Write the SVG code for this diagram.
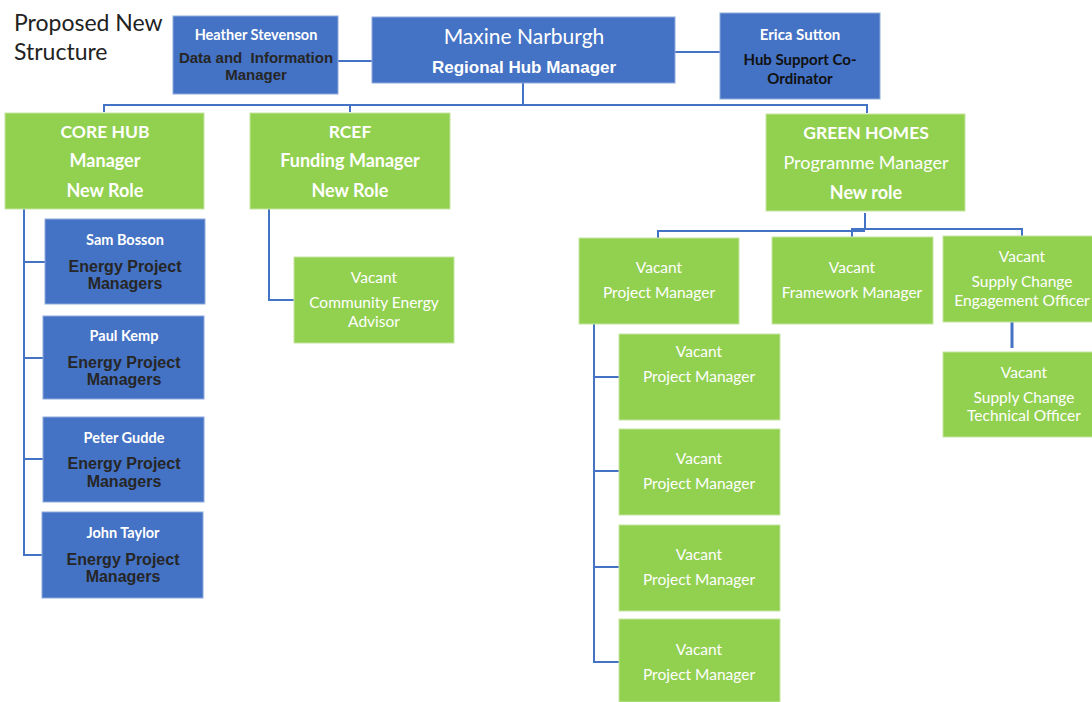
<svg xmlns="http://www.w3.org/2000/svg" width="1092" height="702" viewBox="0 0 1092 702">
<style>
.b{fill:#4472C4;stroke:#8FAADC;stroke-width:1}
.g{fill:#92D050;stroke:#C5E5A0;stroke-width:1}
.ln{fill:none;stroke:#4472C4;stroke-width:2}
text{text-anchor:middle;white-space:pre}
.cal{font-family:Lato,"Open Sans",sans-serif;fill:#fff}
.calb{font-family:Lato,"Open Sans",sans-serif;fill:#fff;font-weight:bold}
.ar{font-family:"Liberation Sans",Arial,sans-serif;font-weight:bold}
.dk{fill:#262626}
.wh{fill:#fff}
.title{font-family:Lato,"Open Sans",sans-serif;font-size:23px;fill:#222;text-anchor:start}
</style>
<rect width="1092" height="702" fill="#fff"/>
<text class="title" x="14" y="31">Proposed New</text>
<text class="title" x="14" y="60">Structure</text>

<g id="connectors">
<path class="ln" d="M338 61H372"/>
<path class="ln" d="M675 52H720"/>
<path class="ln" d="M523 83V105"/>
<path class="ln" d="M104 112V105H867V113"/>
<path class="ln" d="M350 105V112"/>
<path class="ln" d="M24 209V555H42"/>
<path class="ln" d="M24 262H45"/>
<path class="ln" d="M24 358H43"/>
<path class="ln" d="M24 459H43"/>
<path class="ln" d="M269 209V300H294"/>
<path class="ln" d="M865 213V230"/>
<path class="ln" d="M658 238V231H865"/>
<path class="ln" d="M852 237V229H1022V236"/>
<path class="ln" d="M1012 322V348" style="stroke-width:3"/>
<path class="ln" d="M594 324V662H619"/>
<path class="ln" d="M594 377H619"/>
<path class="ln" d="M594 471H619"/>
<path class="ln" d="M594 567H619"/>
</g>

<g id="heather">
<rect class="b" x="173" y="16" width="165" height="78"/>
<text class="calb" x="256" y="40" font-size="14.5">Heather Stevenson</text>
<text class="ar dk" x="256" y="63" font-size="15" xml:space="preserve">Data and  Information</text>
<text class="ar dk" x="256" y="80" font-size="15">Manager</text>
</g>
<g id="maxine">
<rect class="b" x="372" y="17" width="303" height="66"/>
<text class="cal" x="524" y="44" font-size="21">Maxine Narburgh</text>
<text class="ar wh" x="524" y="73" font-size="17">Regional Hub Manager</text>
</g>
<g id="erica">
<rect class="b" x="720" y="13" width="160" height="86"/>
<text class="calb" x="800" y="40" font-size="15">Erica Sutton</text>
<text class="calb" x="800" y="65" font-size="15" style="fill:#111">Hub Support Co-</text>
<text class="calb" x="800" y="84" font-size="15" style="fill:#111">Ordinator</text>
</g>

<g id="corehub">
<rect class="g" x="5" y="113" width="199" height="96"/>
<text class="calb" x="105" y="138" font-size="17.5">CORE HUB</text>
<text class="calb" x="105" y="167" font-size="18">Manager</text>
<text class="calb" x="105" y="197" font-size="18">New Role</text>
</g>
<g id="rcef">
<rect class="g" x="250" y="113" width="200" height="96"/>
<text class="calb" x="350" y="138" font-size="17.5">RCEF</text>
<text class="calb" x="350" y="167" font-size="18">Funding Manager</text>
<text class="calb" x="350" y="197" font-size="18">New Role</text>
</g>
<g id="greenhomes">
<rect class="g" x="766" y="114" width="199" height="97"/>
<text class="calb" x="866" y="139" font-size="17.5">GREEN HOMES</text>
<text class="cal" x="866" y="169" font-size="18">Programme Manager</text>
<text class="calb" x="866" y="199" font-size="18">New role</text>
</g>

<g id="sam">
<rect class="b" x="45" y="219" width="160" height="85"/>
<text class="calb" x="125" y="245" font-size="14.5">Sam Bosson</text>
<text class="ar dk" x="125" y="272" font-size="16">Energy Project</text>
<text class="ar dk" x="125" y="289" font-size="16">Managers</text>
</g>
<g id="paul">
<rect class="b" x="43" y="316" width="161" height="83"/>
<text class="calb" x="124" y="341" font-size="14.5">Paul Kemp</text>
<text class="ar dk" x="124" y="368" font-size="16">Energy Project</text>
<text class="ar dk" x="124" y="385" font-size="16">Managers</text>
</g>
<g id="peter">
<rect class="b" x="43" y="417" width="161" height="85"/>
<text class="calb" x="124" y="443" font-size="14.5">Peter Gudde</text>
<text class="ar dk" x="124" y="469" font-size="16">Energy Project</text>
<text class="ar dk" x="124" y="487" font-size="16">Managers</text>
</g>
<g id="john">
<rect class="b" x="42" y="512" width="161" height="86"/>
<text class="calb" x="123" y="538" font-size="14.5">John Taylor</text>
<text class="ar dk" x="123" y="565" font-size="16">Energy Project</text>
<text class="ar dk" x="123" y="582" font-size="16">Managers</text>
</g>

<g id="community">
<rect class="g" x="294" y="257" width="160" height="86"/>
<text class="cal" x="374" y="283" font-size="15.5">Vacant</text>
<text class="cal" x="374" y="308" font-size="15.5">Community Energy</text>
<text class="cal" x="374" y="327" font-size="15.5">Advisor</text>
</g>

<g id="pm-top">
<rect class="g" x="579" y="238" width="160" height="86"/>
<text class="cal" x="659" y="273" font-size="15.5">Vacant</text>
<text class="cal" x="659" y="298" font-size="15.5">Project Manager</text>
</g>
<g id="framework">
<rect class="g" x="772" y="237" width="161" height="87"/>
<text class="cal" x="852" y="273" font-size="15.5">Vacant</text>
<text class="cal" x="852" y="298" font-size="15.5">Framework Manager</text>
</g>
<g id="engagement">
<rect class="g" x="943" y="236" width="150" height="86"/>
<text class="cal" x="1022" y="262" font-size="15.5">Vacant</text>
<text class="cal" x="1022" y="287" font-size="15.5">Supply Change</text>
<text class="cal" x="1022" y="306" font-size="15.5">Engagement Officer</text>
</g>
<g id="technical">
<rect class="g" x="943" y="352" width="150" height="85"/>
<text class="cal" x="1024" y="378" font-size="15.5">Vacant</text>
<text class="cal" x="1024" y="403" font-size="15.5">Supply Change</text>
<text class="cal" x="1024" y="421" font-size="15.5">Technical Officer</text>
</g>

<g id="pm1">
<rect class="g" x="619" y="334" width="161" height="86"/>
<text class="cal" x="699" y="357" font-size="15.5">Vacant</text>
<text class="cal" x="699" y="382" font-size="15.5">Project Manager</text>
</g>
<g id="pm2">
<rect class="g" x="619" y="429" width="161" height="86"/>
<text class="cal" x="699" y="464" font-size="15.5">Vacant</text>
<text class="cal" x="699" y="489" font-size="15.5">Project Manager</text>
</g>
<g id="pm3">
<rect class="g" x="619" y="525" width="161" height="86"/>
<text class="cal" x="699" y="560" font-size="15.5">Vacant</text>
<text class="cal" x="699" y="585" font-size="15.5">Project Manager</text>
</g>
<g id="pm4">
<rect class="g" x="619" y="619" width="161" height="83"/>
<text class="cal" x="699" y="655" font-size="15.5">Vacant</text>
<text class="cal" x="699" y="680" font-size="15.5">Project Manager</text>
</g>
</svg>
